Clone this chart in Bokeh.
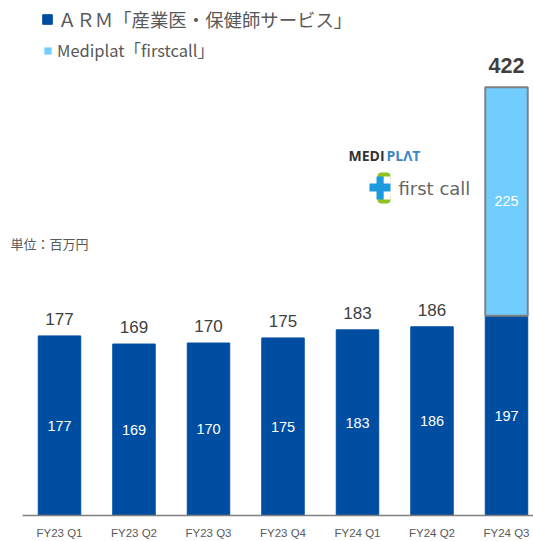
from bokeh.plotting import figure
from bokeh.models import Range1d, FixedTicker, Legend, LegendItem, Label, BoxAnnotation
from bokeh.embed import file_html
from bokeh.resources import INLINE
from bokeh.core.properties import value

quarters = ["FY23 Q1", "FY23 Q2", "FY23 Q3", "FY23 Q4", "FY24 Q1", "FY24 Q2", "FY24 Q3"]
arm = [177, 169, 170, 175, 183, 186, 197]
mediplat = [0, 0, 0, 0, 0, 0, 225]
totals = [177, 169, 170, 175, 183, 186, 422]
arm_name = "ＡＲＭ「産業医・保健師サービス」"
mediplat_name = "Mediplat「firstcall」"
unit_text = "単位：百万円"

DARK = "#004EA2"
LIGHT = "#70CDFE"
JP = "Noto Sans CJK JP"
SANS = "Liberation Sans"

FRAME_BOTTOM = 515

xs = list(range(len(quarters)))
p = figure(width=533, height=541, output_backend="svg", toolbar_location=None,
           x_range=Range1d(-0.7919, 6.3624), y_range=Range1d(0, 507.6),
           min_border_left=0, min_border_right=0, min_border_top=0, min_border_bottom=26,
           outline_line_color=None, background_fill_color="white", border_fill_color="white")
p.grid.visible = False
p.yaxis.visible = False

ax = p.xaxis[0]
ax.ticker = FixedTicker(ticks=xs)
ax.bounds = (-0.4966, 6.3624)
ax.major_label_overrides = {i: q for i, q in enumerate(quarters)}
ax.major_tick_line_color = None
ax.minor_tick_line_color = None
ax.major_tick_out = 0
ax.major_tick_in = 0
ax.axis_line_color = "#808080"
ax.axis_line_width = 1.5
ax.major_label_text_font = SANS
ax.major_label_text_font_size = "11.5px"
ax.major_label_text_color = "#595959"
ax.major_label_standoff = 11

r_arm = p.vbar(x=xs, top=arm, bottom=0, width=0.57, fill_color=DARK, line_color=DARK, line_width=1)
m_x = [x for x, m in zip(xs, mediplat) if m > 0]
m_a = [a for a, m in zip(arm, mediplat) if m > 0]
m_v = [m for m in mediplat if m > 0]
m_t = [a + m for a, m in zip(m_a, m_v)]
r_med_key = p.vbar(x=m_x, bottom=m_a, top=m_t, width=0.57, fill_color=LIGHT, line_color=None)
p.vbar(x=m_x, bottom=m_a, top=m_t, width=0.57, fill_color=LIGHT, line_color="#808080", line_width=2)

# value labels inside the bars
p.text(x=xs, y=[a / 2 for a in arm], text=[str(a) for a in arm], text_color="white",
       text_font=value(SANS), text_font_size="14.5px", text_align="center", text_baseline="middle")
p.text(x=m_x, y=[a + m / 2 for a, m in zip(m_a, m_v)], text=[str(m) for m in m_v], text_color="white",
       text_font=value(SANS), text_font_size="14.5px", text_align="center", text_baseline="middle")

# totals above the bars
reg = [i for i, m in enumerate(mediplat) if m == 0]
p.text(x=reg, y=[totals[i] for i in reg], text=[str(totals[i]) for i in reg], text_color="#404040",
       text_font=value(SANS), text_font_size="17px", text_align="center", text_baseline="middle", y_offset=-17)
p.text(x=m_x, y=m_t, text=[str(t) for t in m_t], text_color="#404040", text_font=value(SANS),
       text_font_size="21.5px", text_font_style="bold", text_align="center", text_baseline="middle", y_offset=-22)

# legends (two, since the reference sizes each entry differently)
def make_legend(label, renderer, size, gw, loc):
    return Legend(items=[LegendItem(label=label, renderers=[renderer])], location=loc,
                  label_text_font=JP, label_text_font_size=size, label_text_color="#595959",
                  glyph_width=gw, glyph_height=gw, border_line_color=None, background_fill_alpha=0,
                  padding=0, margin=0, label_standoff=5, label_height=gw, orientation="vertical")

p.add_layout(make_legend(arm_name, r_arm, "18.4px", 12, (41, FRAME_BOTTOM - 6 - 26)))
p.add_layout(make_legend(mediplat_name, r_med_key, "16.5px", 9, (43, FRAME_BOTTOM - 38 - 24)))

def sy(py):
    return FRAME_BOTTOM - py

def slabel(txt, px, py, size, color, style="normal", font=SANS):
    p.add_layout(Label(x=px, y=sy(py), x_units="screen", y_units="screen", text=txt,
                       text_font=font, text_font_size=size, text_color=color, text_font_style=style,
                       text_baseline="middle"))

# unit note
slabel(unit_text, 10, 243, "13px", "#595959", font=JP)

# logo
slabel("MEDI", 348, 155, "14px", "#333333", "bold", font="Open Sans")
slabel("PLΛT", 386, 155, "14px", "#3B87C4", "bold", font="Open Sans")
slabel("first call", 398, 188, "18px", "#666666", font="DejaVu Sans")

def box(l, r, t, b, color, radius=0):
    p.add_layout(BoxAnnotation(left=l, right=r, top=sy(t), bottom=sy(b),
                               left_units="screen", right_units="screen", top_units="screen",
                               bottom_units="screen", fill_color=color, fill_alpha=1,
                               line_color=None, border_radius=radius, level="overlay"))

box(377, 390, 172, 184, "#8DC21F", 4)
box(377, 390, 191, 203, "#8DC21F", 4)
box(383, 390, 176, 199, "white")
box(369, 390, 183, 191, "#1E9BE0")
box(376, 383, 176, 199, "#1E9BE0")

open("out.html", "w").write(file_html(p, INLINE))
